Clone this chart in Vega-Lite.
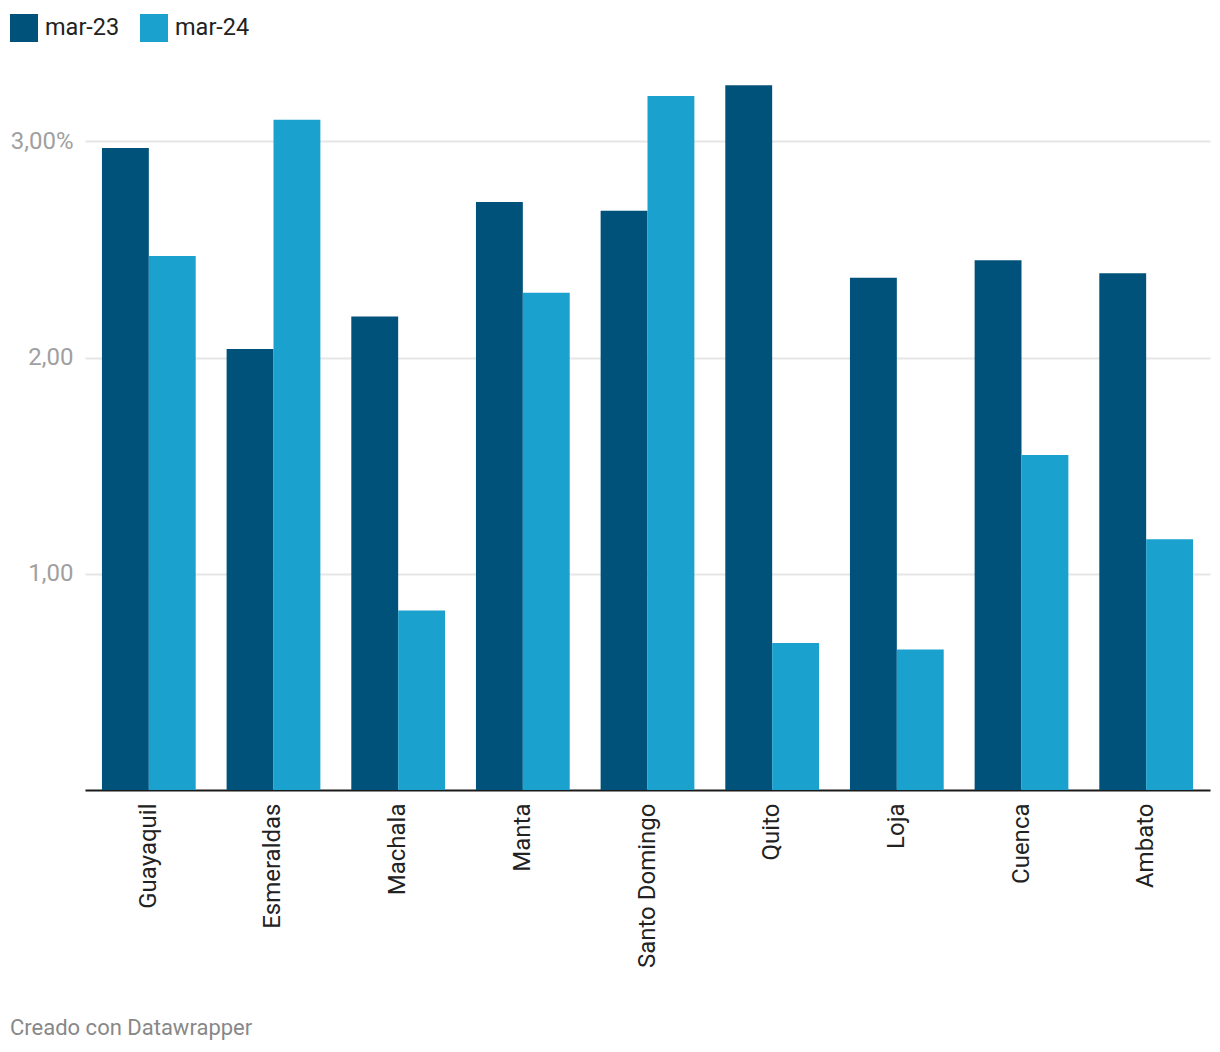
{
  "$schema": "https://vega.github.io/schema/vega-lite/v6.json",
  "autosize": "none",
  "width": 1125,
  "height": 735,
  "padding": {"left": 85, "top": 55, "right": 10, "bottom": 262},
  "background": "white",
  "config": {
    "font": "Roboto",
    "view": {"stroke": null}
  },
  "title": {
    "text": "Creado con Datawrapper",
    "orient": "bottom",
    "anchor": "start",
    "frame": "group",
    "dx": -75,
    "offset": 50,
    "fontSize": 22,
    "fontWeight": "normal",
    "color": "#888888",
    "baseline": "top"
  },
  "data": {
    "values": [
      {"ciudad": "Guayaquil", "periodo": "mar-23", "valor": 2.97},
      {"ciudad": "Guayaquil", "periodo": "mar-24", "valor": 2.47},
      {"ciudad": "Esmeraldas", "periodo": "mar-23", "valor": 2.04},
      {"ciudad": "Esmeraldas", "periodo": "mar-24", "valor": 3.10},
      {"ciudad": "Machala", "periodo": "mar-23", "valor": 2.19},
      {"ciudad": "Machala", "periodo": "mar-24", "valor": 0.83},
      {"ciudad": "Manta", "periodo": "mar-23", "valor": 2.72},
      {"ciudad": "Manta", "periodo": "mar-24", "valor": 2.30},
      {"ciudad": "Santo Domingo", "periodo": "mar-23", "valor": 2.68},
      {"ciudad": "Santo Domingo", "periodo": "mar-24", "valor": 3.21},
      {"ciudad": "Quito", "periodo": "mar-23", "valor": 3.26},
      {"ciudad": "Quito", "periodo": "mar-24", "valor": 0.68},
      {"ciudad": "Loja", "periodo": "mar-23", "valor": 2.37},
      {"ciudad": "Loja", "periodo": "mar-24", "valor": 0.65},
      {"ciudad": "Cuenca", "periodo": "mar-23", "valor": 2.45},
      {"ciudad": "Cuenca", "periodo": "mar-24", "valor": 1.55},
      {"ciudad": "Ambato", "periodo": "mar-23", "valor": 2.39},
      {"ciudad": "Ambato", "periodo": "mar-24", "valor": 1.16}
    ]
  },
  "mark": {"type": "bar"},
  "encoding": {
    "x": {
      "field": "ciudad",
      "type": "nominal",
      "sort": null,
      "scale": {"paddingInner": 0.248, "paddingOuter": 0.136},
      "axis": {
        "title": null,
        "labelAngle": -90,
        "labelAlign": "right",
        "labelBaseline": "middle",
        "labelFontSize": 24,
        "labelColor": "#222222",
        "labelPadding": 13,
        "ticks": false,
        "domainColor": "#1a1a1a",
        "domainWidth": 2,
        "grid": false
      }
    },
    "xOffset": {
      "field": "periodo",
      "type": "nominal",
      "scale": {"paddingInner": 0, "paddingOuter": 0}
    },
    "y": {
      "field": "valor",
      "type": "quantitative",
      "scale": {"domain": [0, 3.4], "nice": false},
      "axis": {
        "title": null,
        "values": [1, 2, 3],
        "labelExpr": "datum.value == 3 ? '3,00%' : replace(format(datum.value, '.2f'), '.', ',')",
        "labelAlign": "right",
        "labelPadding": 12,
        "labelFontSize": 24,
        "labelColor": "#a0a0a0",
        "ticks": false,
        "domain": false,
        "gridColor": "#e6e6e6",
        "gridWidth": 2
      }
    },
    "color": {
      "field": "periodo",
      "type": "nominal",
      "scale": {"domain": ["mar-23", "mar-24"], "range": ["#00527a", "#1aa1ce"]},
      "legend": {
        "title": null,
        "orient": "none",
        "legendX": -75,
        "legendY": -41,
        "direction": "horizontal",
        "symbolType": "square",
        "symbolSize": 784,
        "symbolStrokeWidth": 0,
        "symbolOpacity": 1,
        "labelFontSize": 23.5,
        "labelColor": "#222222",
        "labelOffset": 7,
        "columnPadding": 20
      }
    }
  }
}
